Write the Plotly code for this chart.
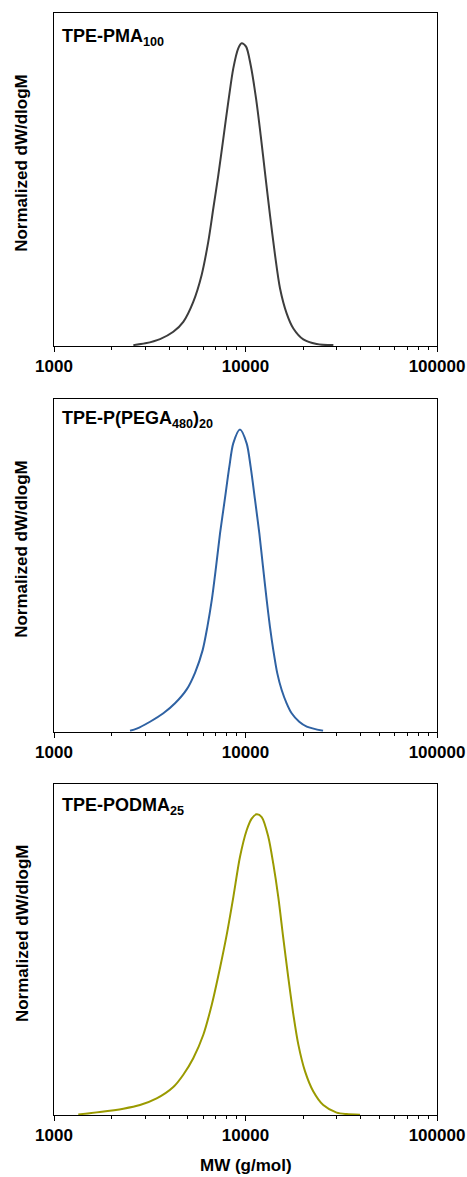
import plotly.graph_objects as go

# Molecular weight distributions (normalized dW/dlogM) for three samples
mw_pma = [2595, 3000, 3580, 4198, 4733, 5336, 5902, 6393, 6792, 7215, 7661,
          8134, 8635, 9165, 9550, 10070, 10640, 11350, 12000, 12680, 13420,
          14260, 15140, 16400, 17780, 20040, 23530, 28760]
w_pma = [0.003, 0.009, 0.023, 0.047, 0.080, 0.146, 0.235, 0.345, 0.455, 0.565,
         0.686, 0.807, 0.917, 0.983, 1.0, 0.989, 0.928, 0.818, 0.697, 0.565,
         0.433, 0.301, 0.191, 0.108, 0.058, 0.022, 0.007, 0.003]

mw_pega = [2495, 2704, 3172, 3724, 4285, 4932, 5449, 5974, 6322, 6668, 7019,
           7362, 7787, 8230, 8630, 9355, 10140, 10640, 11220, 11810, 12340,
           12900, 13420, 13970, 14660, 15450, 16400, 17420, 19080, 20890, 25410]
w_pega = [0.003, 0.010, 0.033, 0.061, 0.094, 0.140, 0.195, 0.270, 0.347, 0.436,
          0.546, 0.656, 0.766, 0.876, 0.954, 1.0, 0.954, 0.876, 0.766, 0.656,
          0.546, 0.436, 0.347, 0.270, 0.193, 0.138, 0.094, 0.061, 0.033, 0.017,
          0.003]

mw_podma = [1339, 1738, 2302, 2812, 3436, 4198, 4733, 5336, 6022, 6665, 7362,
            7980, 8635, 9355, 10140, 10770, 11430, 12150, 13160, 13970, 14840,
            15740, 16730, 17780, 18880, 20460, 22610, 25470, 29920, 33730, 39610]
w_podma = [0.002, 0.010, 0.021, 0.033, 0.055, 0.093, 0.134, 0.189, 0.267, 0.367,
           0.490, 0.600, 0.724, 0.858, 0.947, 0.986, 1.0, 0.991, 0.925, 0.835,
           0.724, 0.590, 0.457, 0.334, 0.234, 0.145, 0.078, 0.033, 0.008, 0.003,
           0.001]

labels = ["TPE-PMA<sub>100</sub>",
          "TPE-P(PEGA<sub>480</sub>)<sub>20</sub>",
          "TPE-PODMA<sub>25</sub>"]
colors = ["#3d3d3d", "#2f62a3", "#9a9a00"]

major_ticks = [1000, 10000, 100000]
major_text = ["1000", "10000", "100000"]
minor_ticks = [m * d for m in (1000, 10000) for d in range(2, 10)]

font_family = "Liberation Sans, Arial, sans-serif"

fig = go.Figure()
series = [(mw_pma, w_pma), (mw_pega, w_pega), (mw_podma, w_podma)]
domains = [[0.6978, 1.0], [0.3478, 0.6495], [0.0, 0.3001]]
label_y = [0.968, 0.981, 0.973]

for i, ((mw, w), col) in enumerate(zip(series, colors)):
    n = "" if i == 0 else str(i + 1)
    fig.add_trace(go.Scatter(
        x=mw, y=w, mode="lines",
        line=dict(color=col, width=2, shape="spline", smoothing=0.8),
        xaxis="x" + n, yaxis="y" + n, showlegend=False,
    ))
    xa = dict(
        type="log", range=[3, 5], anchor="y" + n, automargin=False,
        tickvals=major_ticks, ticktext=major_text,
        ticks="outside", ticklen=5, tickwidth=1, tickcolor="black",
        minor=dict(tickvals=minor_ticks, ticks="outside", ticklen=3,
                   tickcolor="black", tickwidth=1, showgrid=False),
        showline=True, linecolor="black", linewidth=1, mirror=True,
        showgrid=False, zeroline=False,
        tickfont=dict(family=font_family, size=17, color="black", weight="bold"),
    )
    ya = dict(
        domain=domains[i], range=[0, 1.1], anchor="x" + n, automargin=False,
        showticklabels=False, ticks="", showgrid=False, zeroline=False,
        showline=True, linecolor="black", linewidth=1, mirror=True,
    )
    fig.layout["xaxis" + n] = xa
    fig.layout["yaxis" + n] = ya

    fig.add_annotation(
        text="<b>" + labels[i] + "</b>",
        xref="x" + n + " domain", yref="y" + n + " domain",
        x=0.016, y=label_y[i], xanchor="left", yanchor="top",
        showarrow=False,
        font=dict(family=font_family, size=18, color="black"),
    )
    fig.add_annotation(
        text="<b>Normalized dW/dlogM</b>",
        xref="paper", yref="y" + n + " domain",
        x=-0.0836, y=0.55, xanchor="center", yanchor="middle",
        textangle=-90, showarrow=False,
        font=dict(family=font_family, size=17, color="black"),
    )

fig.add_annotation(
    text="<b>MW (g/mol)</b>",
    xref="paper", yref="paper",
    x=0.5, y=-0.0454, xanchor="center", yanchor="middle",
    showarrow=False,
    font=dict(family=font_family, size=17, color="black"),
)

fig.update_layout(
    width=467, height=1177,
    margin=dict(l=54, r=30, t=13, b=62),
    paper_bgcolor="white", plot_bgcolor="white",
)

fig.write_html("out.html")
